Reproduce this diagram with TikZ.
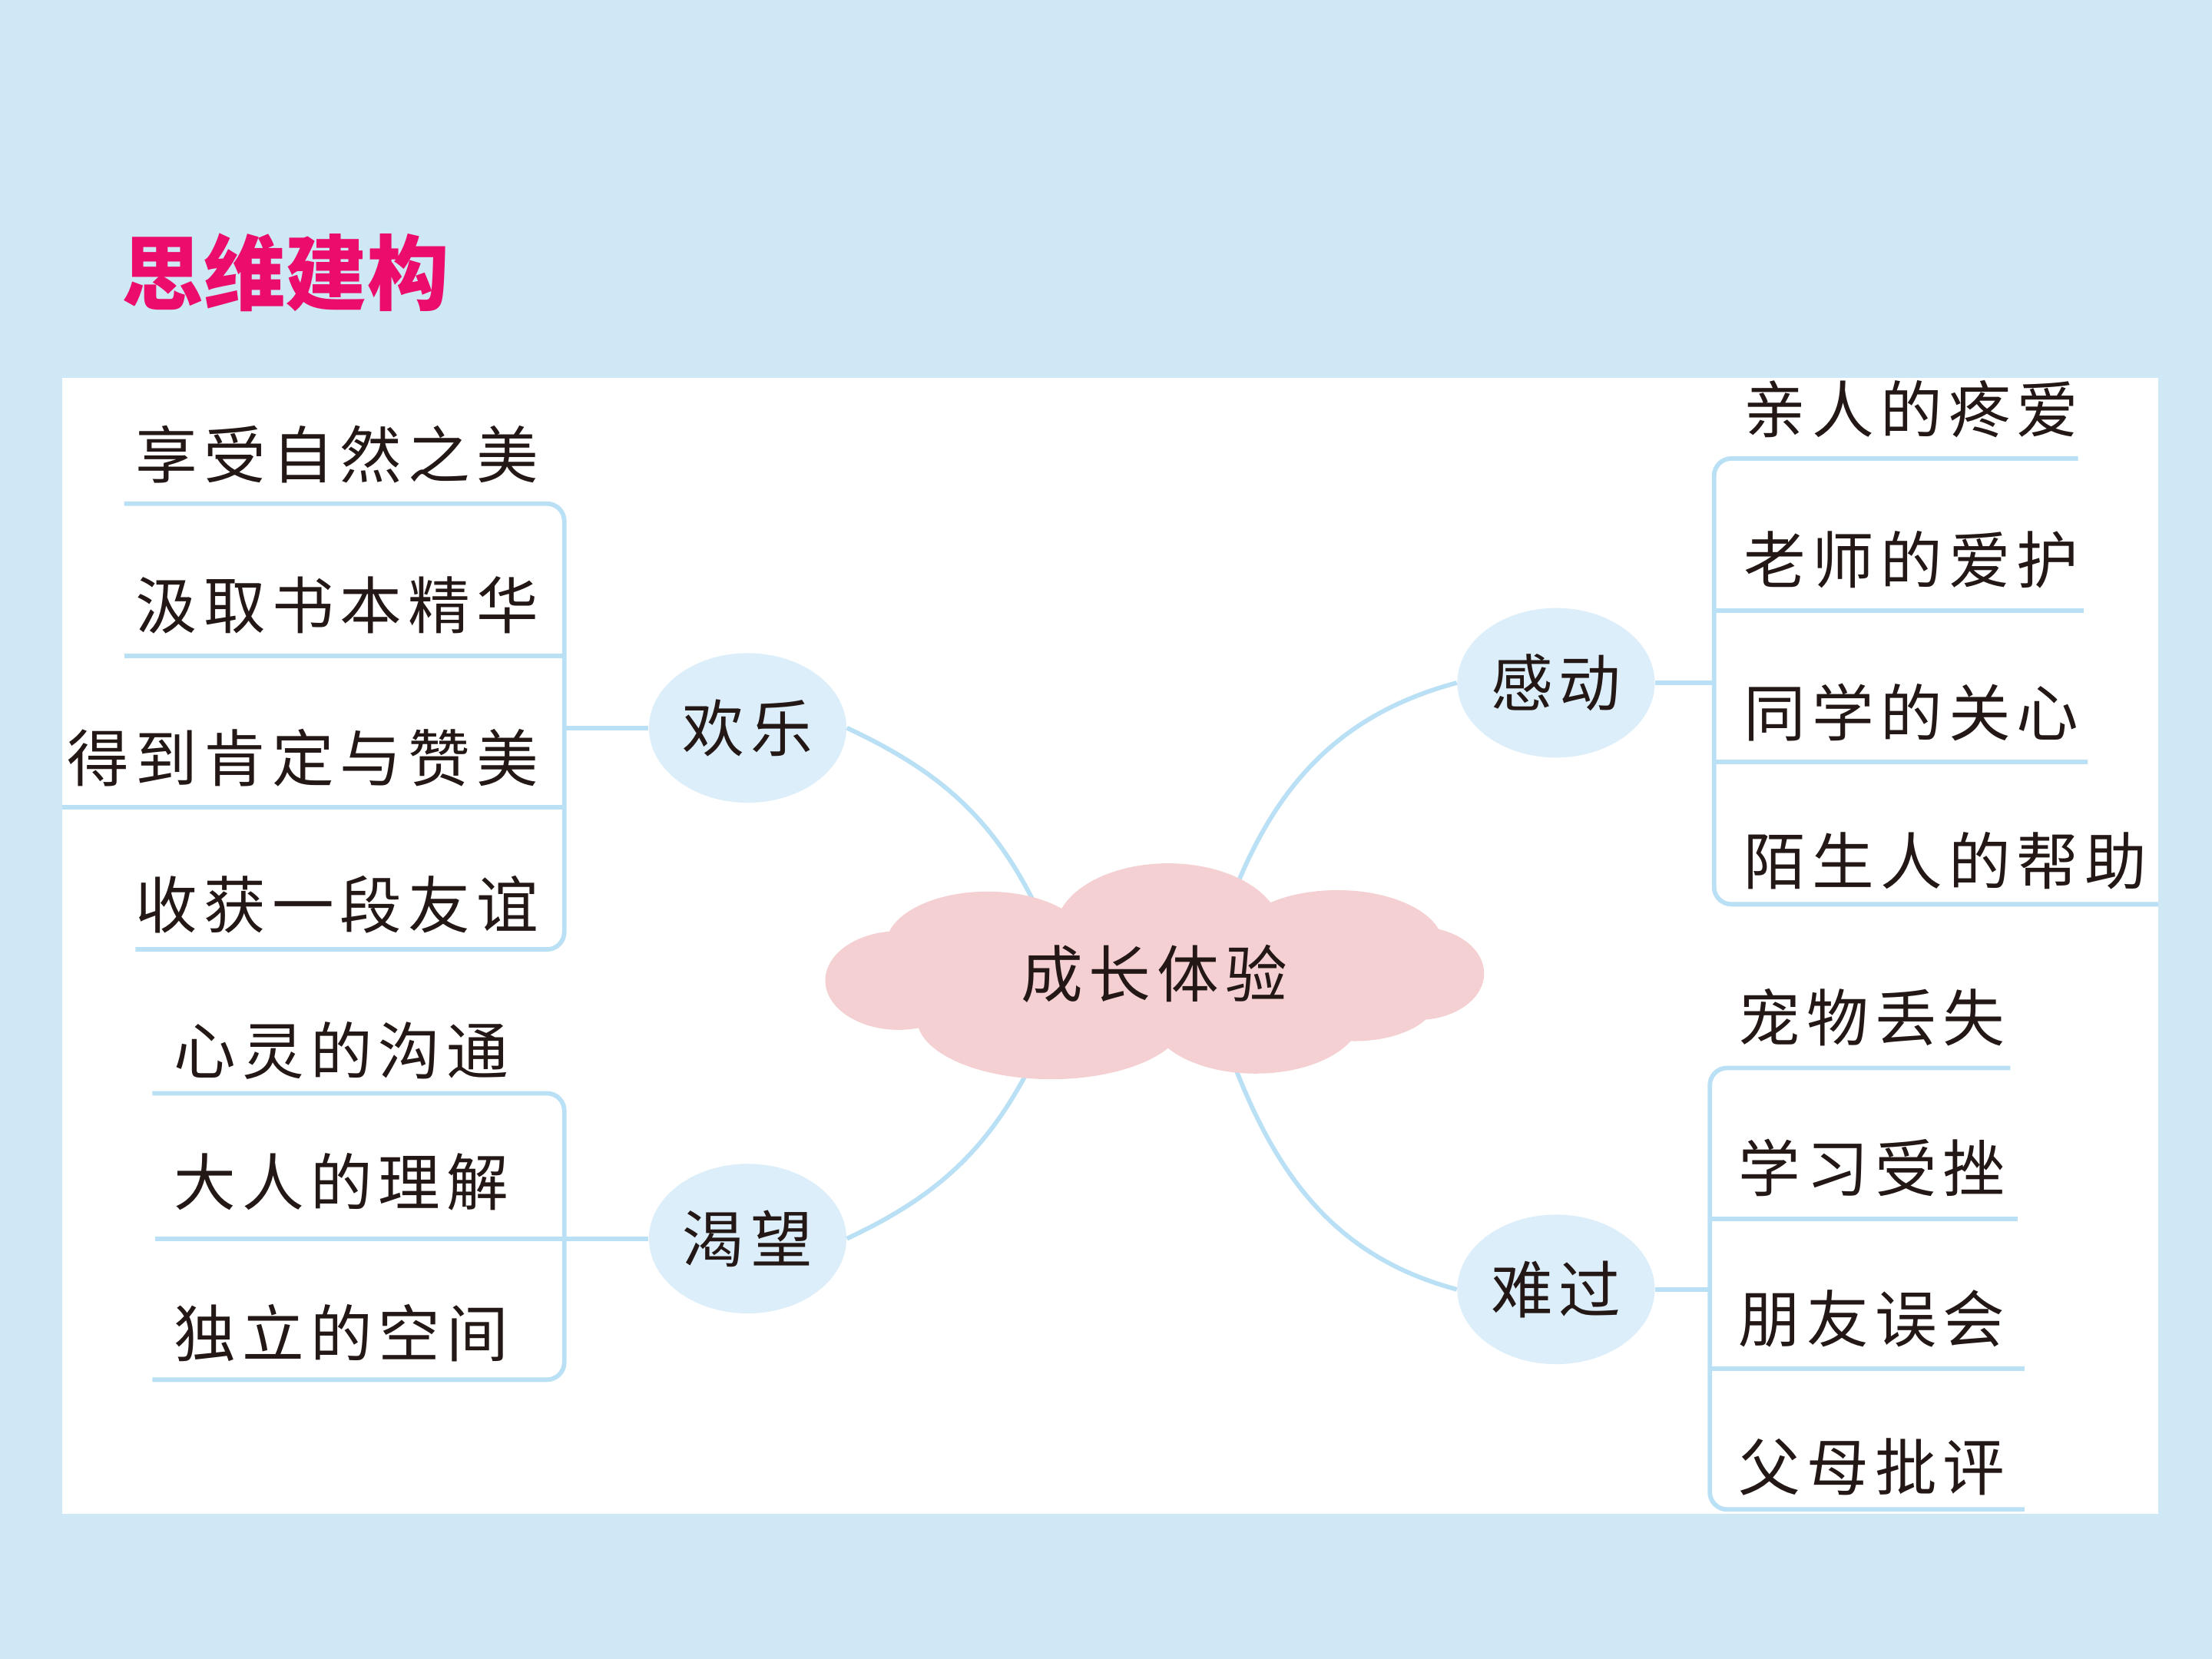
\documentclass[tikz,border=0pt]{standalone}
\usepackage{fontspec}
\newfontfamily\cjk[LetterSpace=10]{Noto Sans CJK SC}
\newfontfamily\cjktitle{Noto Sans CJK SC}
\usetikzlibrary{shapes.geometric}
\definecolor{bgBlue}{HTML}{CFE8F5}
\definecolor{lineB}{HTML}{BAE0F5}
\definecolor{topicB}{HTML}{DCEEF9}
\definecolor{cloudP}{HTML}{F5D0D2}
\definecolor{titleR}{HTML}{EC0C6C}
\definecolor{inkK}{HTML}{231815}

\begin{document}
\begin{tikzpicture}[x=0.02cm, y=-0.02cm,
  topic/.style={
    ellipse, fill=topicB,
    minimum width=2.8cm, minimum height=2.12cm,
    inner sep=0pt, text=inkK,
    font=\cjk\fontsize{25}{28}\selectfont
  },
  leaf/.style={
    inner sep=0pt, text=inkK,
    font=\cjk\fontsize{25}{28}\selectfont
  },
  puff/.style={fill=cloudP},
  brk/.style={draw=lineB, line width=1.8pt, rounded corners=7pt},
  link/.style={draw=lineB, line width=1.8pt}
]
\useasboundingbox (0,0) rectangle (1568,1176);
\fill[bgBlue] (0,0) rectangle (1568,1176);
\fill[white] (44,268) rectangle (1530,1073);

%% ═══ 标题 ═══
\node[anchor=west, inner sep=0pt, text=titleR,
      font=\cjktitle\bfseries\fontsize{33}{36}\selectfont] (title) at (86,193) {思维建构};

%% ═══ 中心 ═══
\coordinate (cJ) at (738,650);
\coordinate (cG) at (870,645);
\coordinate (cK) at (738,740);
\coordinate (cN) at (870,742);

\node[topic] (joy)  at (530,516) {欢乐};
\node[topic] (wish) at (530,878) {渴望};
\node[topic] (move) at (1103,484) {感动};
\node[topic] (sad)  at (1103,914) {难过};

\draw[link] (joy.east)  to[out=-25, in=115] (cJ);
\draw[link] (move.west) to[out=195, in=70]  (cG);
\draw[link] (wish.east) to[out=25,  in=-115] (cK);
\draw[link] (sad.west)  to[out=165, in=-70] (cN);

% cloud
\fill[puff] (818,695) ellipse [x radius=200, y radius=45];
\fill[puff] (828,660) ellipse [x radius=80, y radius=48];
\fill[puff] (700,670) ellipse [x radius=72, y radius=38];
\fill[puff] (948,670) ellipse [x radius=75, y radius=39];
\fill[puff] (637,695) ellipse [x radius=52, y radius=35];
\fill[puff] (1005,690) ellipse [x radius=47, y radius=33];
\fill[puff] (745,722) ellipse [x radius=95, y radius=43];
\fill[puff] (890,720) ellipse [x radius=75, y radius=41];
\fill[puff] (960,708) ellipse [x radius=58, y radius=30];
\node[leaf] (root) at (818,690) {成长体验};

%% ═══ 欢乐 ═══
\coordinate (jJ) at (400,516);
\draw[brk] (88,357) -- (400,357) -- (400,673) -- (96,673);
\draw[link] (88,465) -- (400,465);
\draw[link] (44,572) -- (400,572);
\draw[link] (joy.west) -- (jJ);
\node[leaf, anchor=east] (j1) at (382,322) {享受自然之美};
\node[leaf, anchor=east] (j2) at (382,429) {汲取书本精华};
\node[leaf, anchor=east] (j3) at (382,537) {得到肯定与赞美};
\node[leaf, anchor=east] (j4) at (382,641) {收获一段友谊};

%% ═══ 渴望 ═══
\coordinate (kJ) at (400,878);
\draw[brk] (108,775) -- (400,775) -- (400,978) -- (108,978);
\draw[link] (110,878) -- (kJ);
\draw[link] (wish.west) -- (kJ);
\node[leaf, anchor=east] (k1) at (361,745) {心灵的沟通};
\node[leaf, anchor=east] (k2) at (361,838) {大人的理解};
\node[leaf, anchor=east] (k3) at (361,945) {独立的空间};

%% ═══ 感动 ═══
\coordinate (gJ) at (1215,484);
\draw[brk] (1473,325) -- (1215,325) -- (1215,641) -- (1530,641);
\draw[link] (1215,433) -- (1477,433);
\draw[link] (1215,540) -- (1480,540);
\draw[link] (move.east) -- (gJ);
\node[leaf, anchor=west] (g1) at (1236,290) {亲人的疼爱};
\node[leaf, anchor=west] (g2) at (1236,397) {老师的爱护};
\node[leaf, anchor=west] (g3) at (1236,505) {同学的关心};
\node[leaf, anchor=west] (g4) at (1236,610) {陌生人的帮助};

%% ═══ 难过 ═══
\coordinate (nJ) at (1212,914);
\draw[brk] (1425,757) -- (1212,757) -- (1212,1070) -- (1435,1070);
\draw[link] (1212,864) -- (1430,864);
\draw[link] (1212,970) -- (1435,970);
\draw[link] (sad.east) -- (nJ);
\node[leaf, anchor=west] (n1) at (1232,721) {宠物丢失};
\node[leaf, anchor=west] (n2) at (1232,828) {学习受挫};
\node[leaf, anchor=west] (n3) at (1232,935) {朋友误会};
\node[leaf, anchor=west] (n4) at (1232,1040) {父母批评};

\end{tikzpicture}
\end{document}
